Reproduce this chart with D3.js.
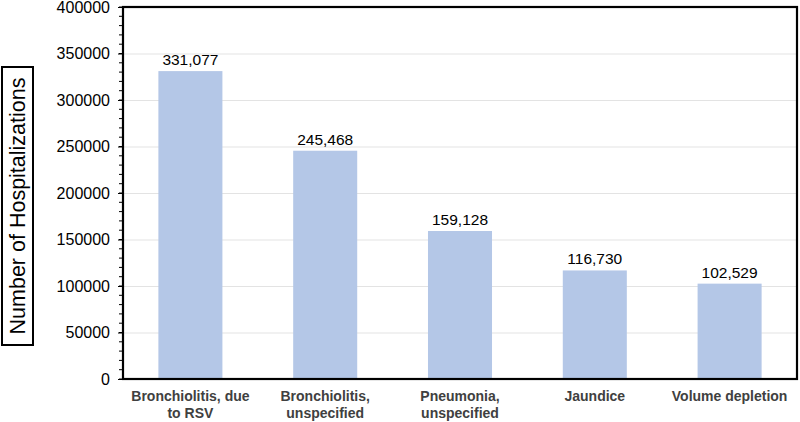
<!DOCTYPE html>
<html><head><meta charset="utf-8">
<script src="https://cdn.jsdelivr.net/npm/d3@7"></script>
<style>body{margin:0;background:#fff}svg{display:block;font-family:"Liberation Sans",Arial,sans-serif}</style>
</head><body><svg id="c" width="800" height="422"></svg>
<script>
const categories = [["Bronchiolitis, due","to RSV"],["Bronchiolitis,","unspecified"],["Pneumonia,","unspecified"],["Jaundice"],["Volume depletion"]];
const values = [331077, 245468, 159128, 116730, 102529];
const yTicks = [0,50000,100000,150000,200000,250000,300000,350000,400000];
const yTitle = "Number of Hospitalizations";

const svg = d3.select("#c");
const L=123, R=797, T=7, B=379;
const x = d3.scaleBand().domain(d3.range(categories.length)).range([L,R]).paddingInner(0.525).paddingOuter(0.2625);
const y = d3.scaleLinear().domain([0,400000]).range([B,T]);

// gridlines
svg.append("g").selectAll("line").data(yTicks.filter(d=>d>0&&d<400000)).join("line")
  .attr("x1",L).attr("x2",R).attr("y1",d=>y(d)+0.5).attr("y2",d=>y(d)+0.5)
  .attr("stroke","#e3e3e3").attr("stroke-width",1.2);

// bars
svg.append("g").selectAll("rect").data(values).join("rect")
  .attr("x",(d,i)=>x(i)).attr("width",x.bandwidth())
  .attr("y",d=>y(d)).attr("height",d=>B-y(d)).attr("fill","#b4c7e7");

// value labels
const fmt = d3.format(",");
svg.append("g").selectAll("text").data(values).join("text")
  .attr("x",(d,i)=>x(i)+x.bandwidth()/2).attr("y",d=>y(d)-6)
  .attr("text-anchor","middle").attr("font-size",15.5).attr("fill","#000")
  .text(d=>fmt(d));

// minor ticks
const minor = d3.range(0,400001,10000);
svg.append("g").selectAll("line").data(minor).join("line")
  .attr("x1",L-4).attr("x2",L).attr("y1",d=>y(d)).attr("y2",d=>y(d))
  .attr("stroke","#000").attr("stroke-width",1);

// y axis labels
const yAxis = d3.axisLeft(y).tickValues(yTicks).tickSize(5).tickPadding(8).tickFormat(d3.format("d"));
const ga = svg.append("g").attr("transform",`translate(${L},0)`).call(yAxis);
ga.select(".domain").remove();
ga.selectAll("text").attr("font-size",16).attr("fill","#000").attr("font-family","Liberation Sans, Arial, sans-serif");
ga.selectAll("line").attr("stroke","#000");

// frame
svg.append("rect").attr("x",L).attr("y",T).attr("width",R-L).attr("height",B-T)
  .attr("fill","none").attr("stroke","#000").attr("stroke-width",2.2);

// category labels
const cg = svg.append("g").selectAll("text").data(categories).join("text")
  .attr("text-anchor","middle").attr("font-size",14).attr("font-weight","bold").attr("fill","#404040")
  .attr("transform",(d,i)=>`translate(${x(i)+x.bandwidth()/2},0)`);
cg.selectAll("tspan").data(d=>d).join("tspan").attr("x",0).attr("y",(d,j)=>401+j*17).text(d=>d);

// y title with box
svg.append("rect").attr("x",2).attr("y",67).attr("width",31).attr("height",278)
  .attr("fill","#fff").attr("stroke","#000").attr("stroke-width",2);
svg.append("text").attr("transform","translate(25,206) rotate(-90)")
  .attr("text-anchor","middle").attr("font-size",21.5).attr("fill","#000").text(yTitle);
</script></body></html>
